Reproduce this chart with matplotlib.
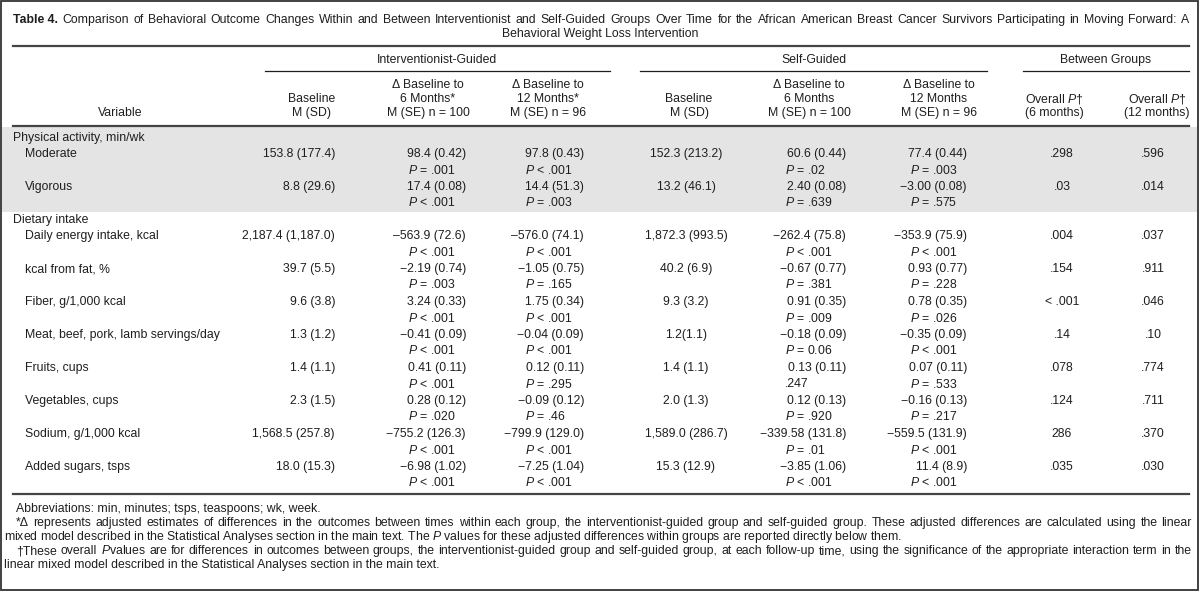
import matplotlib
matplotlib.use("Agg")
import matplotlib.pyplot as plt
from matplotlib.patches import Rectangle

plt.rcParams['font.family'] = ['Liberation Sans', 'DejaVu Sans']
plt.rcParams['mathtext.fontset'] = 'custom'
plt.rcParams['mathtext.rm'] = 'Liberation Sans'
plt.rcParams['mathtext.it'] = 'Liberation Sans:italic'
plt.rcParams['mathtext.bf'] = 'Liberation Sans:bold'

# ---- table data ----
title_words = ("Comparison of Behavioral Outcome Changes Within and Between Interventionist and "
               "Self-Guided Groups Over Time for the African American Breast Cancer Survivors "
               "Participating in Moving Forward: A").split()
title_line2 = "Behavioral Weight Loss Intervention"

groups = ["Interventionist-Guided", "Self-Guided", "Between Groups"]
col_headers = [
    ["Baseline", "M (SD)"],
    ["Δ Baseline to", "6 Months*", "M (SE) n = 100"],
    ["Δ Baseline to", "12 Months*", "M (SE) n = 96"],
    ["Baseline", "M (SD)"],
    ["Δ Baseline to", "6 Months", "M (SE) n = 100"],
    ["Δ Baseline to", "12 Months", "M (SE) n = 96"],
    ["Overall $P$†", "(6 months)"],
    ["Overall $P$†", "(12 months)"],
]

sections = ["Physical activity, min/wk", "Dietary intake"]
variables = ["Moderate", "Vigorous", "Daily energy intake, kcal", "kcal from fat, %",
             "Fiber, g/1,000 kcal", "Meat, beef, pork, lamb servings/day", "Fruits, cups",
             "Vegetables, cups", "Sodium, g/1,000 kcal", "Added sugars, tsps"]
section_of = [0, 0, 1, 1, 1, 1, 1, 1, 1, 1]

ig_base = ["153.8 (177.4)", "8.8 (29.6)", "2,187.4 (1,187.0)", "39.7 (5.5)", "9.6 (3.8)",
           "1.3 (1.2)", "1.4 (1.1)", "2.3 (1.5)", "1,568.5 (257.8)", "18.0 (15.3)"]
ig_6 = ["98.4 (0.42)", "17.4 (0.08)", "–563.9 (72.6)", "−2.19 (0.74)", "3.24 (0.33)",
        "−0.41 (0.09)", "0.41 (0.11)", "0.28 (0.12)", "−755.2 (126.3)", "−6.98 (1.02)"]
ig_6p = ["$P$ = .001", "$P$ < .001", "$P$ < .001", "$P$ = .003", "$P$ < .001",
         "$P$ < .001", "$P$ < .001", "$P$ = .020", "$P$ < .001", "$P$ < .001"]
ig_12 = ["97.8 (0.43)", "14.4 (51.3)", "–576.0 (74.1)", "−1.05 (0.75)", "1.75 (0.34)",
         "−0.04 (0.09)", "0.12 (0.11)", "−0.09 (0.12)", "−799.9 (129.0)", "−7.25 (1.04)"]
ig_12p = ["$P$ < .001", "$P$ = .003", "$P$ < .001", "$P$ = .165", "$P$ < .001",
          "$P$ < .001", "$P$ = .295", "$P$ = .46", "$P$ < .001", "$P$ < .001"]
sg_base = ["152.3 (213.2)", "13.2 (46.1)", "1,872.3 (993.5)", "40.2 (6.9)", "9.3 (3.2)",
           "1.2(1.1)", "1.4 (1.1)", "2.0 (1.3)", "1,589.0 (286.7)", "15.3 (12.9)"]
sg_6 = ["60.6 (0.44)", "2.40 (0.08)", "−262.4 (75.8)", "−0.67 (0.77)", "0.91 (0.35)",
        "−0.18 (0.09)", "0.13 (0.11)", "0.12 (0.13)", "−339.58 (131.8)", "−3.85 (1.06)"]
sg_6p = ["$P$ = .02", "$P$ = .639", "$P$ < .001", "$P$ = .381", "$P$ = .009",
         "$P$ = 0.06", ".247", "$P$ = .920", "$P$ = .01", "$P$ < .001"]
sg_12 = ["77.4 (0.44)", "−3.00 (0.08)", "−353.9 (75.9)", "0.93 (0.77)", "0.78 (0.35)",
         "−0.35 (0.09)", "0.07 (0.11)", "−0.16 (0.13)", "−559.5 (131.9)", "11.4 (8.9)"]
sg_12p = ["$P$ = .003", "$P$ = .575", "$P$ < .001", "$P$ = .228", "$P$ = .026",
          "$P$ < .001", "$P$ = .533", "$P$ = .217", "$P$ < .001", "$P$ < .001"]
p_6m = [".298", ".03", ".004", ".154", "< .001", ".14", ".078", ".124", "286", ".035"]
p_12m = [".596", ".014", ".037", ".911", ".046", ".10", ".774", ".711", ".370", ".030"]

footnotes = [
    "Abbreviations: min, minutes; tsps, teaspoons; wk, week.",
    "*Δ represents adjusted estimates of differences in the outcomes between times within each group, "
    "the interventionist-guided group and self-guided group. These adjusted differences are calculated using the linear",
    "mixed model described in the Statistical Analyses section in the main text. The $P$ values for these "
    "adjusted differences within groups are reported directly below them.",
    "†These overall $P$values are for differences in outcomes between groups, the interventionist-guided group "
    "and self-guided group, at each follow-up time, using the significance of the appropriate interaction term in the",
    "linear mixed model described in the Statistical Analyses section in the main text.",
]

# ---- layout ----
FS = 8.8
INK = '#1e1e1e'
RULE = '#444444'
SHADE = '#e4e4e4'
L, R = 13, 1189

fig = plt.figure(figsize=(12, 5.95), dpi=100)
ax = fig.add_axes([0, 0, 1, 1])
ax.set_xlim(0, 1200)
ax.set_ylim(595, 0)
ax.axis('off')
renderer = fig.canvas.get_renderer()


def txt(x, y, s, ha='left', **kw):
    kw.setdefault('fontsize', FS)
    kw.setdefault('color', INK)
    return ax.text(x, y, s, ha=ha, va='center', **kw)


def justify(words, x0, x1, y, bold_first=0):
    ts = [txt(0, y, w, fontweight='bold' if i < bold_first else 'normal')
          for i, w in enumerate(words)]
    widths = [t.get_window_extent(renderer).width for t in ts]
    gap = (x1 - x0 - sum(widths)) / (len(ts) - 1)
    x = x0
    for t, w in zip(ts, widths):
        t.set_x(x)
        x += w + gap


# outer frame
ax.add_patch(Rectangle((1, 1), 1197, 589, fill=False, ec='#333333', lw=1.3))

# title
justify(["Table 4."] + title_words, L, R, 20, bold_first=1)
txt(600, 34, title_line2, ha='center')
ax.plot([L, R], [46, 46], color=RULE, lw=1.6)

# group headers
group_spans = [(265, 610), (640, 987), (1023, R)]
for g, (a, b) in zip(groups, group_spans):
    txt((a + b) / 2, 60, g, ha='center')
    ax.plot([a, b], [71, 71], color=INK, lw=0.9)

# column headers
head_x = [312, 428, 548, 689, 809, 939, 1054, 1157]
txt(120, 113, "Variable", ha='center')
for hx, lines in zip(head_x, col_headers):
    top = 113 - 14 * (len(lines) - 1)
    for k, line in enumerate(lines):
        txt(hx, top + 14 * k, line, ha='center')
ax.plot([L, R], [126, 126], color=RULE, lw=1.6)

# body
ax.add_patch(Rectangle((2, 127), 1196, 85, color=SHADE, lw=0, zorder=0))
row_y = [154, 187, 236, 269, 302, 335, 368, 401, 434, 467]
section_y = [138, 220]
DP = 16
for s, sy in zip(sections, section_y):
    txt(L, sy, s)

for i, y in enumerate(row_y):
    txt(25, y, variables[i])
    txt(335, y, ig_base[i], ha='right')
    txt(466, y, ig_6[i], ha='right')
    txt(408, y + DP, ig_6p[i])
    txt(584, y, ig_12[i], ha='right')
    txt(525, y + DP, ig_12p[i])
    txt(686, y, sg_base[i], ha='center')
    txt(846, y, sg_6[i], ha='right')
    txt(785, y + DP, sg_6p[i])
    txt(967, y, sg_12[i], ha='right')
    txt(910, y + DP, sg_12p[i])
    txt(1062, y, p_6m[i], ha='center')
    txt(1153, y, p_12m[i], ha='center')

ax.plot([L, R], [494, 494], color=RULE, lw=1.6)

# footnotes
foot_y = [509, 523, 537, 551, 565]
txt(16, foot_y[0], footnotes[0])
justify(footnotes[1].split(), 16, R + 3, foot_y[1])
txt(4, foot_y[2], footnotes[2])
justify(footnotes[3].split(), 16, R + 3, foot_y[3])
txt(4, foot_y[4], footnotes[4])

fig.savefig("out.png", dpi=100)
